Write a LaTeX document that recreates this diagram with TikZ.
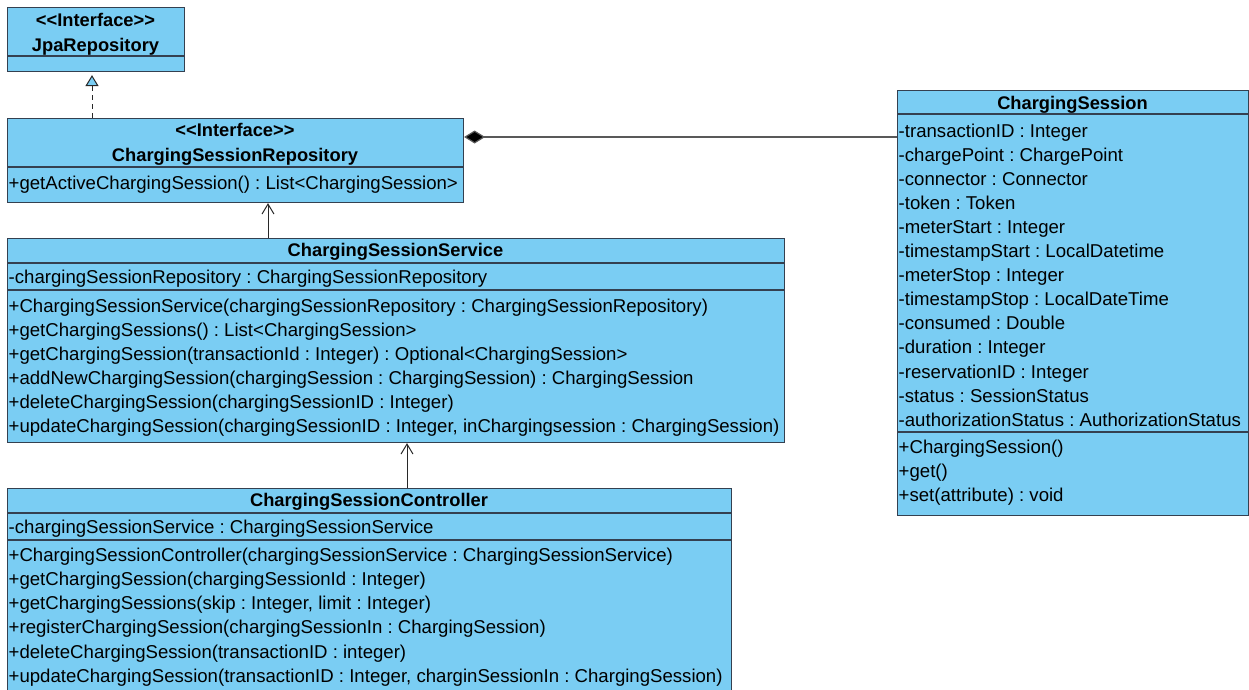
\documentclass[tikz,border=0pt]{standalone}
\usepackage{fontspec}
\setmainfont{Liberation Sans}
\usetikzlibrary{arrows.meta}
\frenchspacing
\definecolor{classfill}{RGB}{122,205,243}
\definecolor{classline}{RGB}{52,64,80}
\definecolor{linkline}{RGB}{40,40,40}
\newcommand{\stereo}[1]{<\kern0pt<#1>\kern0pt>}
\tikzset{
  classbox/.style={draw=classline, line width=1.1pt, fill=classfill, inner sep=0pt, anchor=north west},
  compsep/.style={draw=classline, line width=1.1pt},
  member/.style={anchor=base west, inner sep=0pt, font=\fontsize{18.6}{22}\selectfont},
  classtitle/.style={anchor=base, inner sep=0pt, font=\fontsize{18.3}{22}\selectfont\bfseries},
  assoc/.style={draw=linkline, line width=1pt, -{Straight Barb[length=10pt,width=12pt]}},
  realize/.style={draw=linkline, line width=1pt, dash pattern=on 5pt off 4pt,
    -{Triangle[open, length=11pt, width=13pt, fill=classfill]}, shorten >=3pt},
  compose/.style={draw=gray!70!black, line width=1.2pt,
    -{Diamond[length=21pt,width=13pt,fill=black]}},
}
\begin{document}
\begin{tikzpicture}[x=1pt,y=-1pt]
\fill[white] (0,0) rectangle (1249,690);
\clip (0,0) rectangle (1249,690);

% ---- JpaRepository ----
\node[classbox, minimum width=177pt, minimum height=64pt] (jpa) at (7,7) {};
\draw[compsep] (jpa.west |- 0,56) -- (jpa.east |- 0,56);
\node[classtitle] (jpa-st) at (95.5,27) {\stereo{Interface}};
\node[classtitle] (jpa-nm) at (95.5,51.3) {JpaRepository};

% ---- ChargingSessionRepository ----
\node[classbox, minimum width=456pt, minimum height=84pt] (csr) at (7,118) {};
\draw[compsep] (csr.west |- 0,167) -- (csr.east |- 0,167);
\node[classtitle] (csr-st) at (235,136.8) {\stereo{Interface}};
\node[classtitle] (csr-nm) at (235,161.3) {ChargingSessionRepository};
\node[member] (csr-m0) at (8.5,189.6) {+getActiveChargingSession() : List<ChargingSession>};

% ---- ChargingSessionService ----
\node[classbox, minimum width=777pt, minimum height=204pt] (css) at (7,238) {};
\draw[compsep] (css.west |- 0,263) -- (css.east |- 0,263);
\draw[compsep] (css.west |- 0,290) -- (css.east |- 0,290);
\node[classtitle] (css-nm) at (395.5,256.8) {ChargingSessionService};
\node[member] (css-a0) at (8.5,283.8) {-chargingSessionRepository : ChargingSessionRepository};
\foreach [count=\i from 0] \t in {
  {+ChargingSessionService(chargingSessionRepository : ChargingSessionRepository)},
  {+getChargingSessions() : List<ChargingSession>},
  {+getChargingSession(transactionId : Integer) : Optional<ChargingSession>},
  {+addNewChargingSession(chargingSession : ChargingSession) : ChargingSession},
  {+deleteChargingSession(chargingSessionID : Integer)},
  {+updateChargingSession(chargingSessionID : Integer, inChargingsession : ChargingSession)}}
  \node[member] (css-m\i) at (8.5,{312.3+24*\i}) {\t};

% ---- ChargingSessionController ----
\node[classbox, minimum width=724pt, minimum height=230pt] (csc) at (7,488) {};
\draw[compsep] (csc.west |- 0,513) -- (csc.east |- 0,513);
\draw[compsep] (csc.west |- 0,540) -- (csc.east |- 0,540);
\node[classtitle] (csc-nm) at (369,506.8) {ChargingSessionController};
\node[member] (csc-a0) at (8.5,533.8) {-chargingSessionService : ChargingSessionService};
\foreach [count=\i from 0] \t in {
  {+ChargingSessionController(chargingSessionService : ChargingSessionService)},
  {+getChargingSession(chargingSessionId : Integer)},
  {+getChargingSessions(skip : Integer, limit : Integer)},
  {+registerChargingSession(chargingSessionIn : ChargingSession)},
  {+deleteChargingSession(transactionID : integer)},
  {+updateChargingSession(transactionID : Integer, charginSessionIn : ChargingSession)}}
  \node[member] (csc-m\i) at (8.5,{561.3+24.2*\i}) {\t};

% ---- ChargingSession ----
\node[classbox, minimum width=351pt, minimum height=425pt] (cs) at (897,90) {};
\draw[compsep] (cs.west |- 0,114) -- (cs.east |- 0,114);
\draw[compsep] (cs.west |- 0,432) -- (cs.east |- 0,432);
\node[classtitle] (cs-nm) at (1072.5,109.6) {ChargingSession};
\foreach [count=\i from 0] \t in {
  {-transactionID : Integer},
  {-chargePoint : ChargePoint},
  {-connector : Connector},
  {-token : Token},
  {-meterStart : Integer},
  {-timestampStart : LocalDatetime},
  {-meterStop : Integer},
  {-timestampStop : LocalDateTime},
  {-consumed : Double},
  {-duration : Integer},
  {-reservationID : Integer},
  {-status : SessionStatus},
  {-authorizationStatus : AuthorizationStatus}}
  \node[member] (cs-a\i) at (898.5,{137+24.1*\i}) {\t};
\foreach [count=\i from 0] \t in {
  {+ChargingSession()},
  {+get()},
  {+set(attribute) : void}}
  \node[member] (cs-m\i) at (898.5,{453.6+24*\i}) {\t};

% ---- relationships ----
\draw[realize] (csr.north -| 92,0) -- (jpa.south -| 92,0);
\draw[assoc] (css.north -| 268,0) -- (csr.south -| 268,0);
\draw[assoc] (csc.north -| 407,0) -- (css.south -| 407,0);
\draw[compose] (cs.west |- 0,137) -- (csr.east |- 0,137);
\end{tikzpicture}
\end{document}
